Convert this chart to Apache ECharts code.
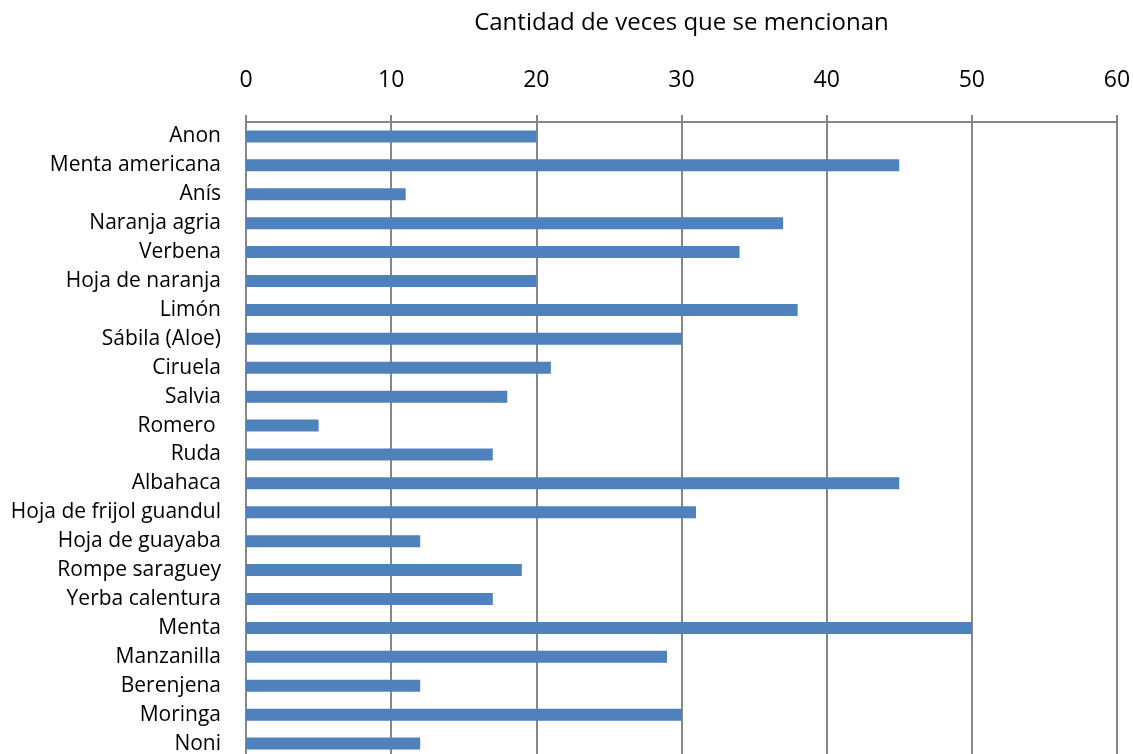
<!DOCTYPE html>
<html>
<head>
<meta charset="utf-8">
<script src="https://cdn.jsdelivr.net/npm/echarts@6/dist/echarts.min.js"></script>
<style>
  html,body{margin:0;padding:0;background:#fff;}
  #chart{width:1133px;height:754px;}
</style>
</head>
<body>
<div id="chart"></div>
<script>
// plantas mencionadas, de arriba hacia abajo
const plantas = ['Anon','Menta americana','Anís','Naranja agria','Verbena','Hoja de naranja','Limón','Sábila (Aloe)','Ciruela','Salvia','Romero ','Ruda','Albahaca','Hoja de frijol guandul','Hoja de guayaba','Rompe saraguey','Yerba calentura','Menta','Manzanilla','Berenjena','Moringa','Noni']
const menciones = [20,45,11,37,34,20,38,30,21,18,5,17,45,31,12,19,17,50,29,12,30,12]
const ejeMin = 0, ejeMax = 60, ejePaso = 10

const chart = echarts.init(document.getElementById('chart'))
const fuente = '"Open Sans", "Noto Sans", sans-serif'
const gris = '#868686'

chart.setOption({
  animation:false,
  grid:{left:246, right:16, top:122, height:636, outerBoundsMode:'none', containLabel:false},
  xAxis:{
    type:'value', position:'top',
    min:ejeMin, max:ejeMax, interval:ejePaso,
    name:'Cantidad de veces que se mencionan',
    nameLocation:'middle', nameGap:87,
    nameTextStyle:{fontFamily:fuente, fontSize:24, color:'#000'},
    axisLine:{show:true, lineStyle:{color:gris, width:2}},
    axisTick:{show:true, length:7, lineStyle:{color:gris, width:2}},
    axisLabel:{fontFamily:fuente, fontSize:23, color:'#000', margin:30},
    splitLine:{show:true, lineStyle:{color:gris, width:2}}
  },
  yAxis:{
    type:'category', inverse:true, data:plantas,
    axisLine:{show:true, lineStyle:{color:gris, width:2}},
    axisTick:{show:false},
    axisLabel:{fontFamily:fuente, fontSize:21, color:'#000', margin:25}
  },
  series:[{
    type:'bar', data:menciones,
    barWidth:12,
    itemStyle:{color:'#4F81BD'}
  }]
})
</script>
</body>
</html>
